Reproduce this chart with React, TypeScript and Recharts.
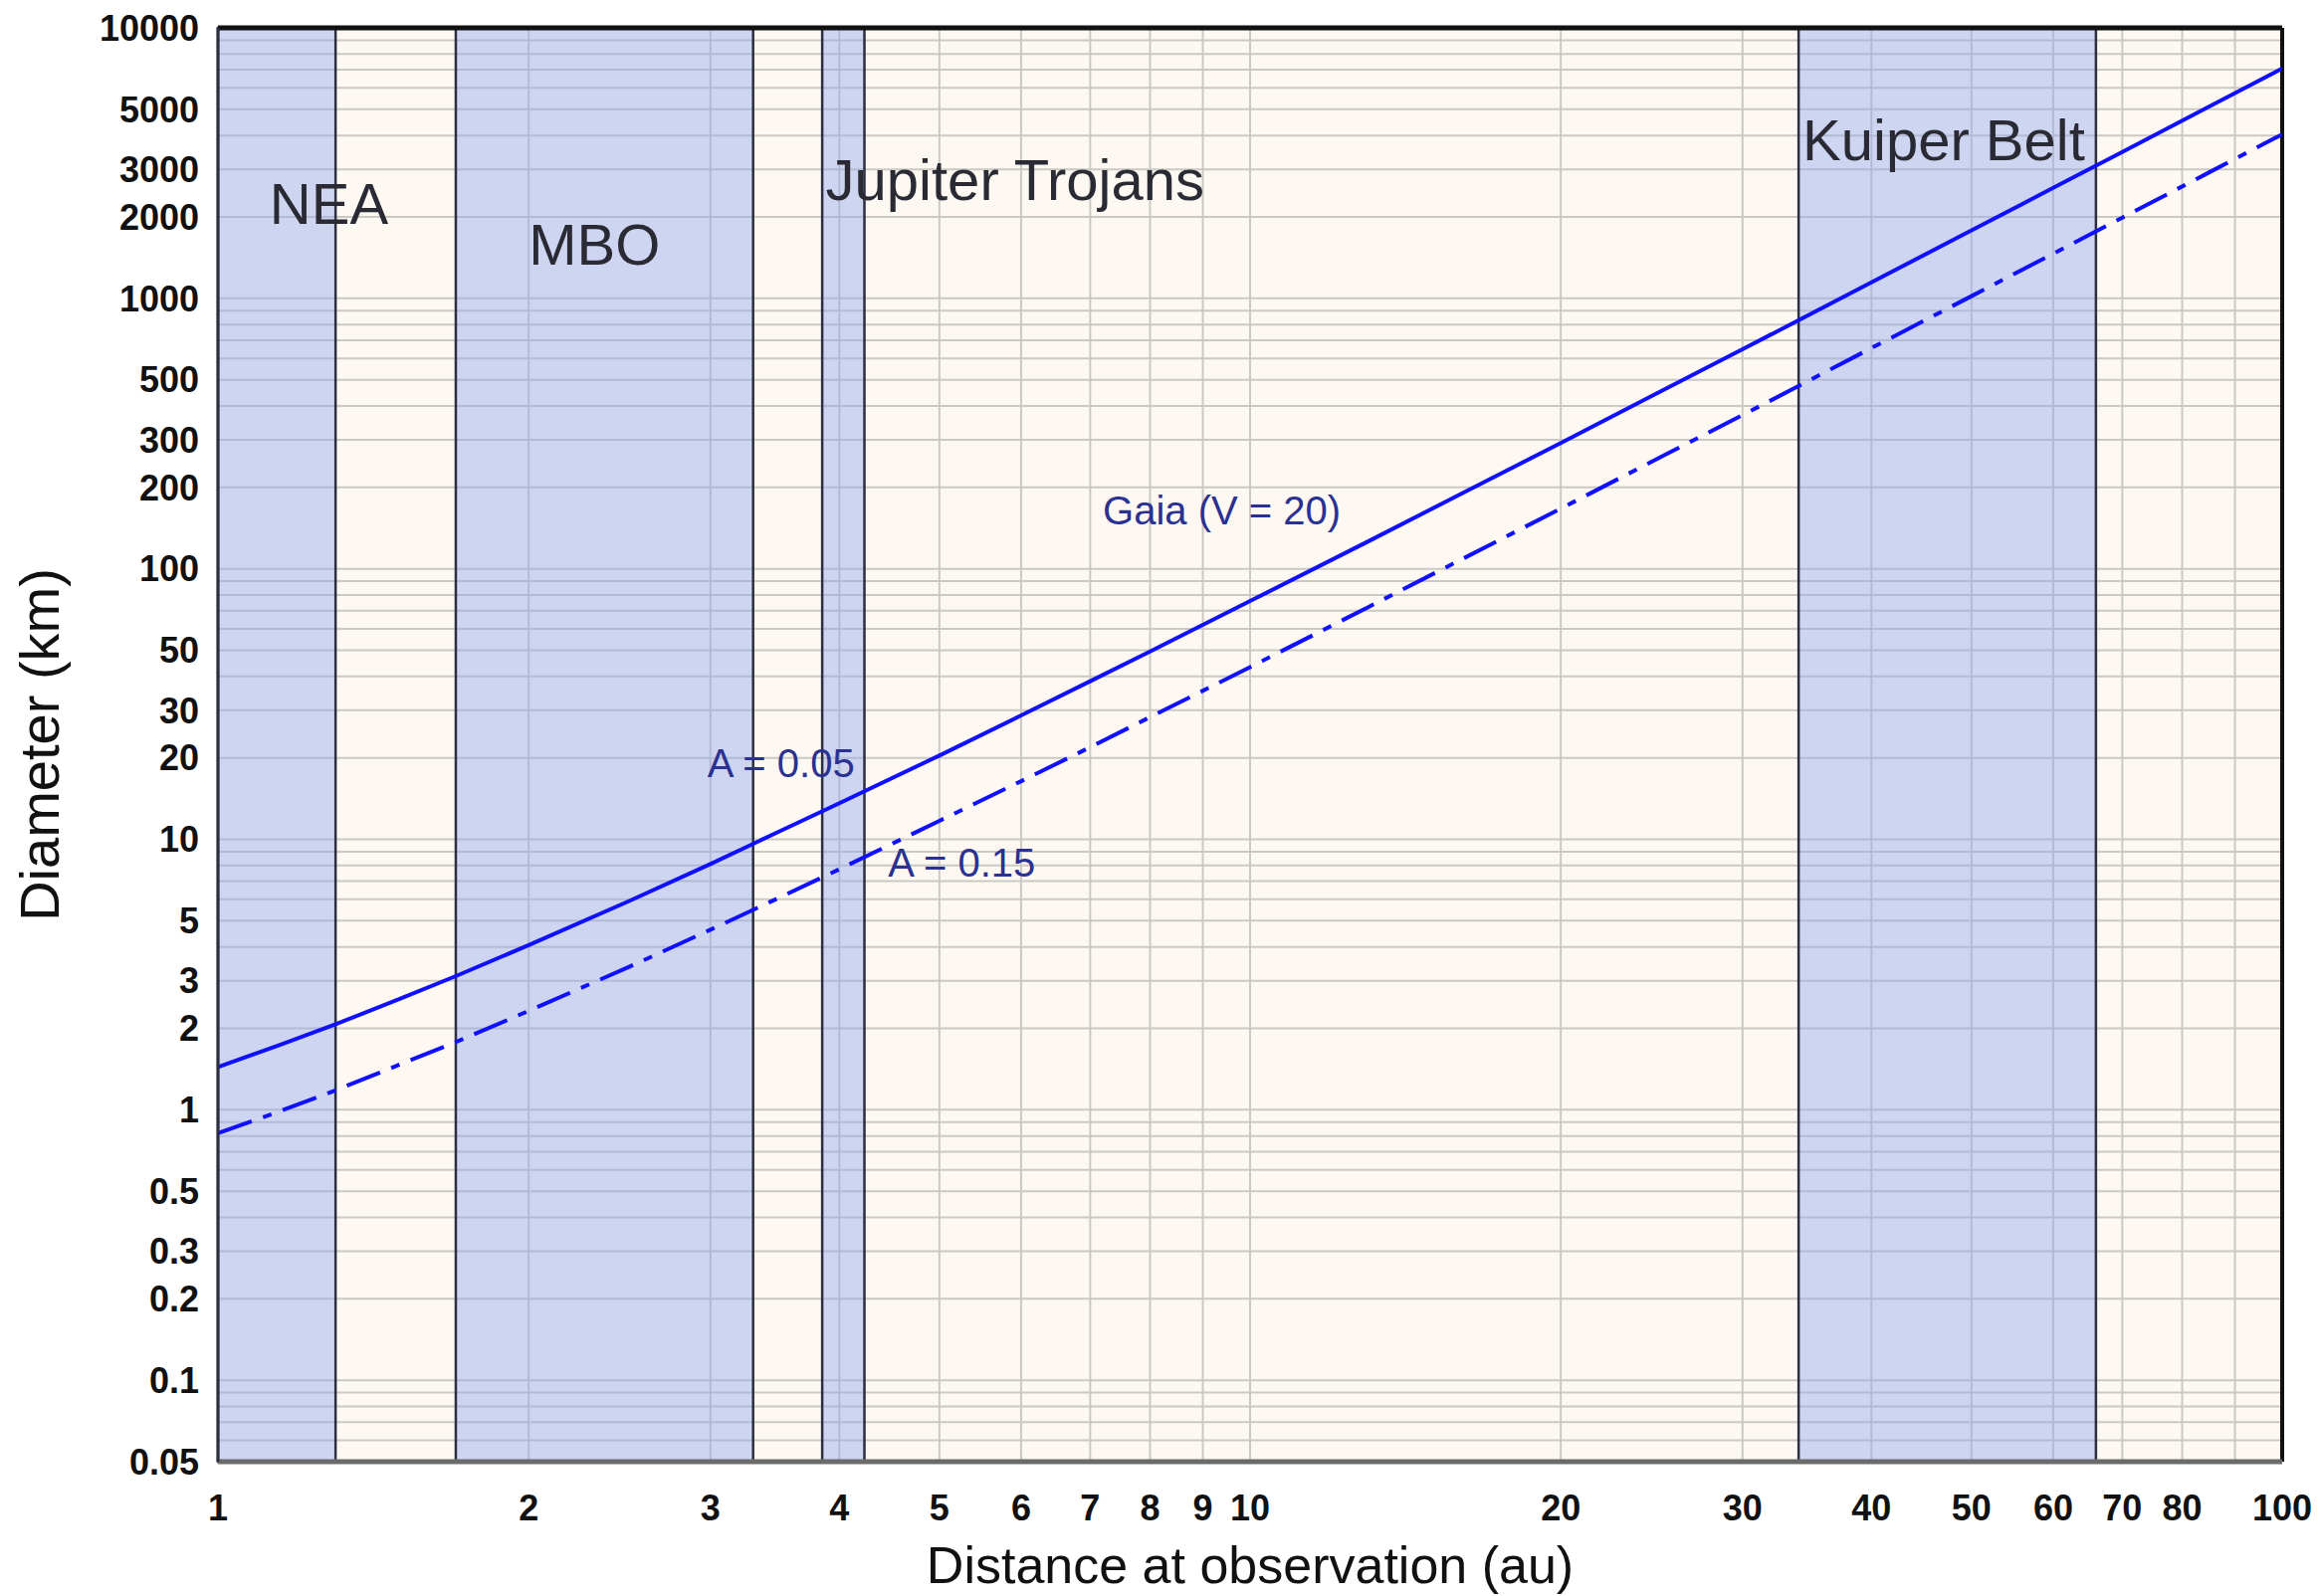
import {
  ComposedChart,
  Line,
  XAxis,
  YAxis,
  CartesianGrid,
  ReferenceArea,
  ReferenceLine,
  ReferenceDot,
} from "recharts";

// Heliocentric distance (au) and the smallest diameter (km) Gaia sees at V = 20
const distances = [
  1, 1.15, 1.3, 1.5, 1.7, 2, 2.5, 3, 3.5, 4, 5, 6, 7, 8, 10, 13, 16, 20, 25,
  30, 40, 50, 60, 70, 85, 100,
];
const diameterAlbedo005 = [
  1.44, 1.74, 2.07, 2.57, 3.12, 4.06, 5.9, 8.1, 10.7, 13.6, 20.4, 28.7, 38.4,
  49.5, 76, 126, 189, 292, 453, 648, 1146, 1783, 2561, 3478, 5118, 7075,
];
const diameterAlbedo015 = [
  0.82, 0.99, 1.18, 1.47, 1.78, 2.32, 3.37, 4.63, 6.09, 7.75, 11.7, 16.4, 21.9,
  28.3, 43.3, 72, 108, 167, 259, 370, 655, 1019, 1463, 1987, 2925, 4040,
];

// Populations shaded on the plot
const regionNames = ["NEA", "MBO", "Jupiter Trojans", "Kuiper Belt"];
const regionStart = [1, 1.7, 3.85, 34];
const regionEnd = [1.3, 3.3, 4.23, 66];

const xTicks = [1, 2, 3, 4, 5, 6, 7, 8, 9, 10, 20, 30, 40, 50, 60, 70, 80, 100];
const yTicks = [
  0.05, 0.1, 0.2, 0.3, 0.5, 1, 2, 3, 5, 10, 20, 30, 50, 100, 200, 300, 500,
  1000, 2000, 3000, 5000, 10000,
];

// where the text annotations sit, in axis units
const regionLabelAt = [
  { x: 1.122, y: 2250 },
  { x: 2.0, y: 1590 },
  { x: 3.88, y: 2740 },
  { x: 34.3, y: 3870 },
];
const curveNotes = [
  { text: "Gaia (V = 20)", x: 7.2, y: 164 },
  { text: "A = 0.05", x: 2.98, y: 19.1 },
  { text: "A = 0.15", x: 4.46, y: 8.2 },
];

const data = distances.map((d, i) => ({
  distance: d,
  a005: diameterAlbedo005[i],
  a015: diameterAlbedo015[i],
}));

// log grid: every integer multiple inside each decade
const gridX: number[] = [];
for (const dec of [1, 10]) for (let m = 1; m <= 9; m++) gridX.push(m * dec);
gridX.push(100);
const gridY: number[] = [];
for (const dec of [0.01, 0.1, 1, 10, 100, 1000]) {
  for (let m = 1; m <= 9; m++) {
    const v = +(m * dec).toPrecision(3);
    if (v >= 0.05 && v <= 10000) gridY.push(v);
  }
}
gridY.push(10000);

const FONT = "'Liberation Sans', Arial, sans-serif";
const tickStyle = { fontSize: 36, fontWeight: 700, fill: "#111", fontFamily: FONT };

export default function App() {
  return (
    <div style={{ position: "absolute", left: 0, top: 0, width: 2332, height: 1604, background: "#fff" }}>
      <ComposedChart
        width={2332}
        height={1604}
        data={data}
        margin={{ top: 28, right: 39, bottom: 0, left: 0 }}
      >
        <CartesianGrid
          fill="#fdf9f2"
          fillOpacity={1}
          stroke="#cbc9c4"
          strokeWidth={2}
          horizontalValues={gridY}
          verticalValues={gridX}
        />
        <XAxis
          dataKey="distance"
          type="number"
          scale="log"
          domain={[1, 100]}
          allowDataOverflow
          ticks={xTicks}
          interval={0}
          height={135}
          tickLine={false}
          tickSize={0}
          tickMargin={33}
          tick={tickStyle}
          axisLine={{ stroke: "#6b6b6b", strokeWidth: 5 }}
          label={{
            content: ({ viewBox }: any) => (
              <text
                x={viewBox.x + viewBox.width / 2}
                y={viewBox.y + 104}
                textAnchor="middle"
                dominantBaseline="central"
                fontSize={52}
                fontFamily={FONT}
                fill="#111"
              >
                Distance at observation (au)
              </text>
            ),
          }}
        />
        <YAxis
          type="number"
          scale="log"
          domain={[0.05, 10000]}
          allowDataOverflow
          ticks={yTicks}
          interval={0}
          width={219}
          tickLine={false}
          tickSize={0}
          tickMargin={19}
          tick={tickStyle}
          axisLine={{ stroke: "#2c2f3f", strokeWidth: 3 }}
          label={{
            content: ({ viewBox }: any) => (
              <text
                transform={`translate(${viewBox.x + 39}, ${viewBox.y + viewBox.height / 2}) rotate(-90)`}
                textAnchor="middle"
                dominantBaseline="central"
                fontSize={56}
                fontFamily={FONT}
                fill="#111"
              >
                Diameter (km)
              </text>
            ),
          }}
        />

        {regionNames.map((name, i) => (
          <ReferenceArea
            key={name}
            x1={regionStart[i]}
            x2={regionEnd[i]}
            y1={0.05}
            y2={10000}
            fill="#95a8ee"
            fillOpacity={0.45}
            stroke="#2c2f3f"
            strokeWidth={2.5}
          />
        ))}

        <ReferenceLine y={10000} stroke="#111" strokeWidth={5} />
        <ReferenceLine x={100} stroke="#111" strokeWidth={4} />

        <Line
          type="linear"
          dataKey="a005"
          stroke="#1010ff"
          strokeWidth={4}
          dot={false}
          activeDot={false}
          isAnimationActive={false}
        />
        <Line
          type="linear"
          dataKey="a015"
          stroke="#1010ff"
          strokeWidth={4}
          strokeDasharray="36 12 9 12"
          dot={false}
          activeDot={false}
          isAnimationActive={false}
        />

        {regionNames.map((name, i) => (
          <ReferenceDot
            key={"lbl-" + name}
            x={regionLabelAt[i].x}
            y={regionLabelAt[i].y}
            r={0}
            fill="none"
            stroke="none"
            label={{
              value: name,
              position: "right",
              offset: 0,
              fontSize: 58,
              fontFamily: FONT,
              fill: "#2a2a35",
            }}
          />
        ))}
        {curveNotes.map((n) => (
          <ReferenceDot
            key={n.text}
            x={n.x}
            y={n.y}
            r={0}
            fill="none"
            stroke="none"
            label={{
              value: n.text,
              position: "right",
              offset: 0,
              fontSize: 40,
              fontFamily: FONT,
              fill: "#2b3190",
            }}
          />
        ))}
      </ComposedChart>
    </div>
  );
}
